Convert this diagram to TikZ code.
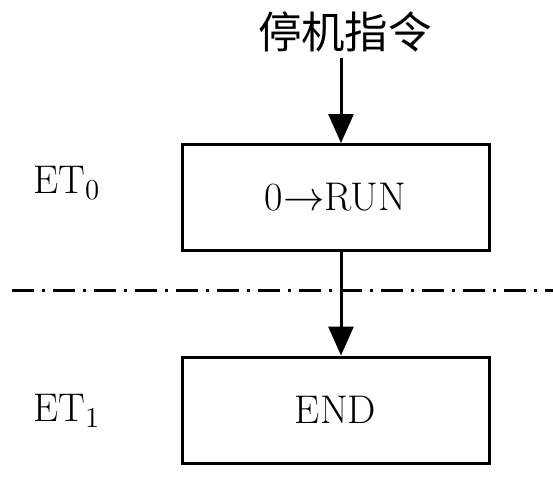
\documentclass[tikz,border=0pt]{standalone}
\usepackage{fontspec}
\newfontfamily\cjk{Noto Sans CJK SC}
\usepackage{tikz}
\usetikzlibrary{arrows.meta}

\begin{document}
\begin{tikzpicture}[x=0.5pt, y=-0.5pt,
		box/.style = {draw, line width = 1.5pt, minimum width = 153.5pt, minimum height = 53pt, inner sep = 0pt, font = \fontsize{20}{24}\selectfont},
		lbl/.style = {anchor = base west, inner sep = 0pt, font = \fontsize{20}{24}\selectfont},
		flow/.style = {line width = 1.5pt, -{Triangle[width = 12.5pt, length = 14.5pt]}}]
					\def\xARR{341};
					\def\ySEP{290};

					\useasboundingbox (0,0) rectangle (553,488);

					\begin{scope}
						\node (cmd) at (345,32) [inner sep = 2.5pt, font = \cjk\fontsize{21.75}{26}\selectfont] {停机指令};
						\node (run) at (335.5,197.5) [box] {0$\rightarrow$RUN};
						\node (end) at (335.5,410) [box] {END};
						\coordinate (ax) at (\xARR,0);
					\end{scope}

					\begin{scope}
						\node (et0) at (33,193) [lbl] {$\mathrm{ET}_0$};
						\node (et1) at (33,421) [lbl] {$\mathrm{ET}_1$};
					\end{scope}

					\begin{scope}[flow]
						\draw (cmd.south -| ax) -- (run.north -| ax);
						\draw (run.south -| ax) -- (end.north -| ax);
					\end{scope}

					\draw [line width = 1.5pt, dash pattern = on 11pt off 4pt on 1.5pt off 4pt] (12,\ySEP) -- (553,\ySEP);
				\end{tikzpicture}
\end{document}
